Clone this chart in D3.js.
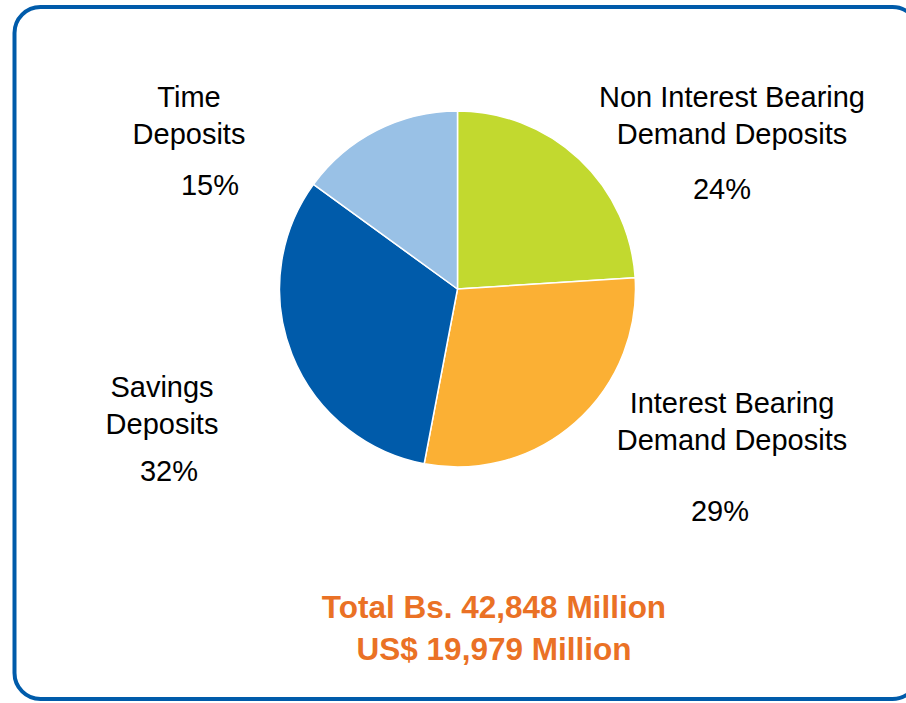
<!DOCTYPE html>
<html>
<head>
<meta charset="utf-8">
<script src="https://cdn.jsdelivr.net/npm/d3@7"></script>
<style>
  html, body { margin: 0; padding: 0; background: #ffffff; }
  svg { display: block; }
  text { font-family: "Liberation Sans", Arial, sans-serif; }
</style>
</head>
<body>
<svg id="chart" width="906" height="703"></svg>
<script>
// ---- data ----
const categories = [
  "Non Interest Bearing Demand Deposits",
  "Interest Bearing Demand Deposits",
  "Savings Deposits",
  "Time Deposits"
];
const values = [24, 29, 32, 15];
const labelLines = [
  ["Non Interest Bearing", "Demand Deposits"],
  ["Interest Bearing", "Demand Deposits"],
  ["Savings", "Deposits"],
  ["Time", "Deposits"]
];
const totalLines = ["Total Bs. 42,848 Million", "US$ 19,979 Million"];

// ---- style / layout ----
const colors = ["#C2D92F", "#FBB034", "#005BAA", "#99C1E6"];
// label layout: name x, first baseline, pct x, pct baseline
const labelLayout = [
  { x: 732, y: 107, px: 722, py: 199 },
  { x: 732, y: 413, px: 720, py: 521 },
  { x: 162, y: 397, px: 169, py: 481 },
  { x: 189, y: 107, px: 210, py: 195 }
];
const lineGap = 37;

const svg = d3.select("#chart");

// frame
svg.append("rect")
  .attr("x", 14.5).attr("y", 7).attr("width", 904).attr("height", 692)
  .attr("rx", 26).attr("ry", 26)
  .attr("fill", "#ffffff")
  .attr("stroke", "#005BAA").attr("stroke-width", 4);

// pie
const cx = 457.5, cy = 289, r = 178;
const pie = d3.pie().sort(null).value(d => d).startAngle(0).endAngle(2 * Math.PI);
const arc = d3.arc().innerRadius(0).outerRadius(r);
const g = svg.append("g").attr("transform", `translate(${cx},${cy})`);
g.selectAll("path")
  .data(pie(values))
  .join("path")
  .attr("d", arc)
  .attr("fill", (d, i) => colors[i])
  .attr("stroke", "#ffffff")
  .attr("stroke-width", 1.5)
  .attr("stroke-linejoin", "round");

// labels
const lab = svg.append("g").attr("font-size", 29).attr("fill", "#000").attr("text-anchor", "middle");
categories.forEach((c, i) => {
  const L = labelLayout[i];
  labelLines[i].forEach((line, j) => {
    lab.append("text").attr("x", L.x).attr("y", L.y + j * lineGap).text(line);
  });
  lab.append("text").attr("x", L.px).attr("y", L.py).text(values[i] + "%");
});

// totals
const tot = svg.append("g")
  .attr("font-size", 31.5).attr("font-weight", "bold")
  .attr("fill", "#EA7125").attr("text-anchor", "middle");
totalLines.forEach((t, j) => {
  tot.append("text").attr("x", 494).attr("y", 618 + j * 42).text(t);
});
</script>
</body>
</html>
